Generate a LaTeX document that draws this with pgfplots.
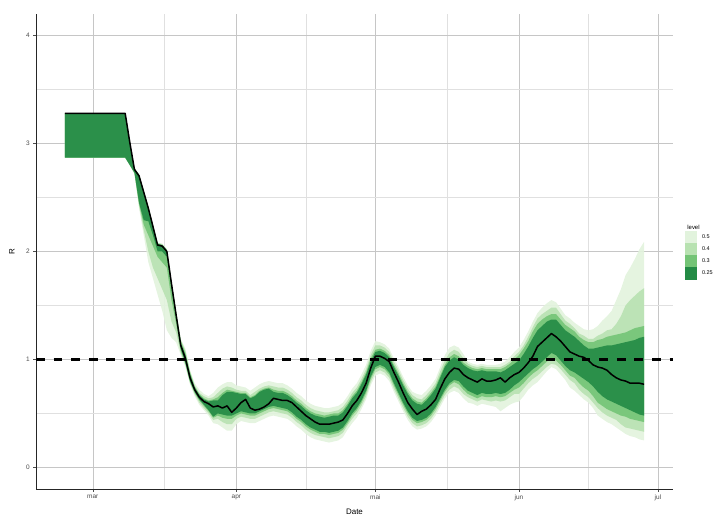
\documentclass[border=0pt]{standalone}
\usepackage{pgfplots}
\pgfplotsset{compat=1.18}
\usepackage{pgfplotstable}
\usepgfplotslibrary{fillbetween}
\usepackage{fontspec}
\setmainfont{Liberation Sans}
\definecolor{gA}{HTML}{E2F3DD}
\definecolor{gB}{HTML}{B8E2B1}
\definecolor{gC}{HTML}{74C476}
\definecolor{gD}{HTML}{238B45}
\definecolor{majg}{HTML}{C6C6C6}
\definecolor{ming}{HTML}{E0E0E0}
\pgfplotstableread{
d m l1 u1 l2 u2 l3 u3 l4 u4
-6 3.28 2.87 3.28 2.87 3.28 2.87 3.28 2.87 3.28
7 3.28 2.87 3.28 2.87 3.28 2.87 3.28 2.87 3.28
8 3.01 2.80 3.01 2.80 3.01 2.80 3.01 2.80 3.01
9 2.76 2.73 2.77 2.73 2.77 2.72 2.77 2.72 2.77
10 2.70 2.45 2.71 2.44 2.71 2.42 2.71 2.40 2.72
11 2.55 2.29 2.56 2.25 2.56 2.20 2.57 2.15 2.57
12 2.40 2.28 2.41 2.15 2.41 2.00 2.42 1.90 2.42
13 2.23 2.15 2.24 2.05 2.24 1.85 2.25 1.75 2.25
14 2.06 2.00 2.07 1.95 2.07 1.75 2.08 1.60 2.08
15 2.05 2.00 2.06 1.90 2.06 1.65 2.07 1.45 2.07
16 2.00 1.95 2.01 1.85 2.01 1.55 2.02 1.27 2.02
17 1.70 1.65 1.71 1.55 1.71 1.35 1.72 1.20 1.72
18 1.41 1.38 1.42 1.33 1.43 1.25 1.44 1.16 1.45
19 1.13 1.10 1.15 1.08 1.17 1.06 1.18 1.04 1.19
20 1.01 0.97 1.04 0.96 1.06 0.95 1.08 0.93 1.10
21 0.83 0.80 0.86 0.79 0.88 0.78 0.89 0.77 0.90
22 0.72 0.70 0.74 0.69 0.75 0.68 0.76 0.66 0.78
23 0.65 0.63 0.67 0.62 0.68 0.60 0.69 0.58 0.72
24 0.61 0.58 0.63 0.57 0.64 0.55 0.66 0.53 0.68
25 0.59 0.53 0.61 0.52 0.62 0.50 0.64 0.48 0.66
26 0.56 0.47 0.62 0.46 0.63 0.44 0.65 0.41 0.69
27 0.57 0.50 0.62 0.48 0.65 0.45 0.69 0.40 0.74
28 0.55 0.49 0.67 0.46 0.69 0.42 0.73 0.37 0.77
29 0.57 0.48 0.70 0.45 0.72 0.40 0.75 0.34 0.79
30 0.51 0.48 0.70 0.45 0.71 0.40 0.74 0.34 0.79
31 0.55 0.50 0.69 0.48 0.70 0.45 0.72 0.40 0.76
32 0.60 0.52 0.68 0.50 0.69 0.47 0.71 0.43 0.75
33 0.63 0.51 0.68 0.49 0.69 0.46 0.71 0.42 0.74
34 0.55 0.50 0.64 0.48 0.65 0.45 0.67 0.41 0.71
35 0.53 0.50 0.66 0.48 0.67 0.45 0.70 0.41 0.74
36 0.54 0.52 0.70 0.50 0.71 0.47 0.73 0.43 0.77
37 0.56 0.54 0.72 0.52 0.73 0.49 0.75 0.45 0.79
38 0.59 0.56 0.73 0.54 0.74 0.51 0.76 0.47 0.80
39 0.64 0.57 0.70 0.55 0.72 0.52 0.75 0.48 0.79
40 0.63 0.56 0.69 0.54 0.71 0.51 0.74 0.47 0.78
41 0.62 0.55 0.69 0.53 0.71 0.50 0.74 0.46 0.78
42 0.62 0.54 0.67 0.52 0.69 0.49 0.72 0.45 0.76
43 0.60 0.51 0.64 0.49 0.66 0.46 0.69 0.42 0.73
44 0.56 0.47 0.60 0.45 0.62 0.42 0.65 0.38 0.69
45 0.52 0.44 0.57 0.42 0.59 0.39 0.62 0.35 0.66
46 0.48 0.40 0.53 0.38 0.55 0.35 0.58 0.31 0.62
47 0.45 0.37 0.50 0.35 0.52 0.32 0.55 0.28 0.59
48 0.42 0.35 0.48 0.33 0.50 0.30 0.53 0.26 0.57
49 0.40 0.33 0.47 0.31 0.49 0.29 0.52 0.25 0.56
50 0.40 0.33 0.46 0.31 0.48 0.28 0.51 0.24 0.55
51 0.40 0.32 0.47 0.30 0.49 0.27 0.51 0.23 0.55
52 0.41 0.33 0.48 0.31 0.50 0.28 0.52 0.24 0.56
53 0.42 0.34 0.48 0.32 0.50 0.29 0.53 0.25 0.57
54 0.44 0.37 0.51 0.35 0.53 0.32 0.56 0.28 0.60
55 0.50 0.43 0.57 0.41 0.59 0.39 0.62 0.35 0.66
56 0.57 0.50 0.64 0.48 0.66 0.45 0.69 0.41 0.73
57 0.62 0.55 0.69 0.53 0.71 0.50 0.74 0.46 0.78
58 0.69 0.62 0.77 0.60 0.79 0.57 0.82 0.54 0.86
59 0.78 0.71 0.86 0.69 0.88 0.66 0.91 0.63 0.95
60 0.92 0.84 0.98 0.82 1.01 0.79 1.04 0.76 1.08
61 1.03 0.93 1.07 0.91 1.09 0.88 1.13 0.85 1.17
62 1.03 0.95 1.08 0.93 1.10 0.90 1.13 0.87 1.16
63 1.01 0.93 1.06 0.91 1.08 0.88 1.11 0.85 1.14
64 0.98 0.88 1.02 0.86 1.04 0.83 1.07 0.80 1.10
65 0.88 0.78 0.93 0.76 0.95 0.73 0.98 0.70 1.01
66 0.79 0.69 0.85 0.67 0.87 0.64 0.90 0.61 0.93
67 0.69 0.60 0.76 0.58 0.78 0.55 0.81 0.52 0.84
68 0.60 0.52 0.68 0.50 0.70 0.47 0.73 0.44 0.76
69 0.54 0.46 0.62 0.44 0.64 0.41 0.67 0.38 0.70
70 0.49 0.43 0.59 0.41 0.61 0.38 0.64 0.35 0.68
71 0.52 0.44 0.58 0.42 0.60 0.39 0.63 0.36 0.67
72 0.54 0.46 0.62 0.44 0.64 0.41 0.67 0.38 0.71
73 0.58 0.50 0.67 0.48 0.69 0.45 0.72 0.42 0.76
74 0.63 0.56 0.73 0.54 0.75 0.51 0.78 0.48 0.82
75 0.73 0.64 0.83 0.62 0.85 0.59 0.89 0.56 0.93
76 0.82 0.72 0.93 0.70 0.95 0.67 0.99 0.64 1.04
77 0.88 0.78 0.99 0.76 1.02 0.72 1.06 0.69 1.11
78 0.92 0.81 1.02 0.79 1.05 0.75 1.09 0.71 1.13
79 0.91 0.80 1.00 0.77 1.03 0.73 1.07 0.69 1.11
80 0.86 0.75 0.95 0.72 0.97 0.68 1.01 0.64 1.05
81 0.83 0.71 0.92 0.68 0.94 0.65 0.96 0.60 0.98
82 0.81 0.69 0.90 0.66 0.92 0.63 0.94 0.59 0.96
83 0.79 0.67 0.89 0.64 0.91 0.61 0.93 0.57 0.95
84 0.82 0.69 0.90 0.66 0.92 0.63 0.94 0.59 0.96
85 0.80 0.68 0.89 0.65 0.91 0.62 0.93 0.58 0.95
86 0.80 0.68 0.89 0.65 0.91 0.61 0.93 0.57 0.95
87 0.81 0.69 0.89 0.66 0.91 0.62 0.93 0.56 0.95
88 0.83 0.68 0.88 0.65 0.91 0.61 0.93 0.52 0.96
89 0.79 0.69 0.90 0.66 0.93 0.62 0.95 0.55 0.98
90 0.83 0.72 0.93 0.69 0.96 0.65 0.98 0.58 1.02
91 0.86 0.76 0.96 0.72 1.00 0.68 1.03 0.60 1.07
92 0.88 0.79 0.99 0.74 1.04 0.68 1.07 0.61 1.11
93 0.92 0.83 1.05 0.78 1.10 0.73 1.13 0.66 1.18
94 0.97 0.87 1.12 0.83 1.17 0.78 1.21 0.72 1.26
95 1.03 0.91 1.20 0.87 1.26 0.82 1.30 0.76 1.35
96 1.12 0.94 1.27 0.90 1.33 0.85 1.38 0.79 1.43
97 1.16 0.98 1.31 0.94 1.37 0.89 1.42 0.84 1.48
98 1.20 1.02 1.35 0.98 1.40 0.93 1.45 0.89 1.52
99 1.24 1.06 1.37 1.01 1.42 0.96 1.48 0.93 1.55
100 1.21 1.04 1.37 0.99 1.42 0.95 1.48 0.91 1.53
101 1.17 0.99 1.32 0.95 1.37 0.91 1.42 0.86 1.47
102 1.12 0.94 1.27 0.90 1.32 0.86 1.36 0.81 1.41
103 1.07 0.90 1.24 0.85 1.29 0.81 1.33 0.74 1.38
104 1.05 0.88 1.21 0.83 1.26 0.78 1.29 0.71 1.34
105 1.03 0.85 1.17 0.78 1.21 0.72 1.24 0.67 1.31
106 1.02 0.82 1.13 0.74 1.18 0.68 1.22 0.63 1.28
107 0.99 0.79 1.10 0.71 1.16 0.65 1.19 0.60 1.27
108 0.95 0.75 1.10 0.66 1.16 0.60 1.19 0.55 1.28
109 0.93 0.70 1.11 0.60 1.18 0.55 1.22 0.48 1.31
110 0.92 0.66 1.12 0.57 1.19 0.51 1.24 0.45 1.36
111 0.90 0.63 1.13 0.54 1.21 0.48 1.27 0.42 1.40
112 0.86 0.61 1.13 0.52 1.22 0.46 1.28 0.40 1.45
113 0.83 0.59 1.14 0.50 1.23 0.44 1.33 0.37 1.55
114 0.81 0.57 1.15 0.48 1.24 0.40 1.40 0.34 1.65
115 0.80 0.55 1.16 0.47 1.25 0.37 1.50 0.31 1.78
116 0.78 0.53 1.17 0.45 1.27 0.36 1.55 0.29 1.85
117 0.78 0.51 1.18 0.44 1.29 0.35 1.59 0.28 1.93
118 0.78 0.49 1.20 0.43 1.30 0.34 1.63 0.26 2.02
119 0.77 0.48 1.21 0.42 1.31 0.33 1.66 0.25 2.09
}\Rdata
\begin{document}
\begin{tikzpicture}
\begin{axis}[
  at={(36bp,27bp)}, anchor=south west,
  scale only axis, width=637bp, height=475bp,
  xmin=-12.25, xmax=125.25, ymin=-0.2, ymax=4.2,
  axis lines=left, axis line style={-, black!85, line width=0.7bp},
  xtick={0,31,61,92,122}, xticklabels={mar,apr,mai,jun,jul},
  minor xtick={15.5,46,76.5,107},
  ytick={0,1,2,3,4}, minor ytick={0.5,1.5,2.5,3.5},
  grid=both,
  major grid style={majg, line width=0.5bp},
  minor grid style={ming, line width=0.5bp},
  tick align=outside, major tick length=2.75bp, minor tick length=0pt,
  tick style={black!70, line width=0.5bp},
  ticklabel style={font=\fontsize{6.5}{7}\selectfont, text=black!70},
  /pgf/number format/assume math mode=true,
  no markers,
  xlabel={Date}, ylabel={R},
  label style={font=\fontsize{8}{9}\selectfont, inner sep=0pt},
  xlabel style={at={(axis description cs:0.5,-0.042)}, anchor=north},
  ylabel style={at={(axis description cs:-0.0377,0.5)}, anchor=center},
  legend style={at={(axis description cs:1,0.5)}, anchor=west, xshift=12bp,
    draw=none, fill=none, inner sep=0pt, outer sep=0pt, row sep=0pt,
    font=\fontsize{5.5}{6}\selectfont, nodes={inner sep=0pt},
    /tikz/every odd column/.append style={column sep=5bp}},
  legend cell align=left,
  legend image code/.code={\fill[#1, draw=none] (0bp,-6.1bp) rectangle (12bp,6.1bp);},
]
\addlegendimage{empty legend}
\addlegendentry{\hspace*{-18bp}\raisebox{0bp}[6bp][3.5bp]{\fontsize{6}{7}\selectfont level}}
\addlegendimage{draw=none, fill=gA}
\addlegendentry{0.5}
\addlegendimage{draw=none, fill=gB}
\addlegendentry{0.4}
\addlegendimage{draw=none, fill=gC}
\addlegendentry{0.3}
\addlegendimage{draw=none, fill=gD}
\addlegendentry{0.25}

\addplot[draw=none, name path=U4] table[x=d, y=u4]{\Rdata};
\addplot[draw=none, name path=L4] table[x=d, y=l4]{\Rdata};
\addplot[draw=none, name path=U3] table[x=d, y=u3]{\Rdata};
\addplot[draw=none, name path=L3] table[x=d, y=l3]{\Rdata};
\addplot[draw=none, name path=U2] table[x=d, y=u2]{\Rdata};
\addplot[draw=none, name path=L2] table[x=d, y=l2]{\Rdata};
\addplot[draw=none, name path=U1] table[x=d, y=u1]{\Rdata};
\addplot[draw=none, name path=L1] table[x=d, y=l1]{\Rdata};
\addplot[fill=gA, fill opacity=0.9, draw=none] fill between[of=U4 and L4];
\addplot[fill=gB, fill opacity=0.9, draw=none] fill between[of=U3 and L3];
\addplot[fill=gC, fill opacity=0.9, draw=none] fill between[of=U2 and L2];
\addplot[fill=gD, fill opacity=0.9, draw=none] fill between[of=U1 and L1];
\addplot[black, line width=1.5bp, line join=round] table[x=d, y=m]{\Rdata};
\addplot[black, line width=2.2bp, dash pattern=on 8.8bp off 8.8bp] coordinates {(-12.25,1) (125.25,1)};
\end{axis}
\pgfresetboundingbox
\path[use as bounding box] (0,0) rectangle (716bp,516bp);
\end{tikzpicture}
\end{document}
